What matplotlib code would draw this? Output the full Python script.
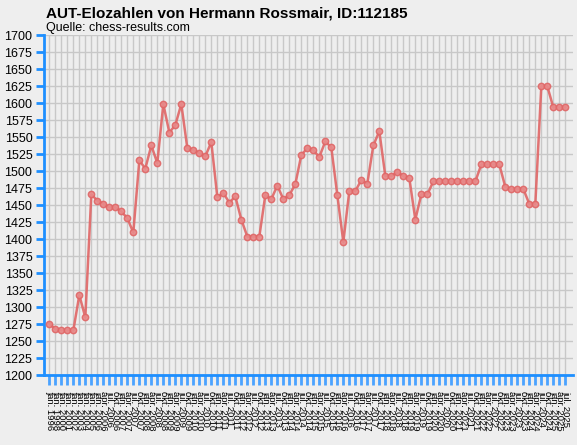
import numpy as np
import matplotlib
matplotlib.use('Agg')
import matplotlib.pyplot as plt

# Elo-Werte
elo = [1276, 1268, 1266, 1266, 1266, 1318, 1285, 1466, 1457, 1452,
       1447, 1447, 1441, 1431, 1410, 1516, 1504, 1538, 1512, 1599,
       1557, 1568, 1599, 1534, 1531, 1527, 1522, 1543, 1462, 1468,
       1454, 1463, 1429, 1404, 1404, 1404, 1465, 1459, 1479, 1459,
       1465, 1481, 1524, 1534, 1531, 1521, 1544, 1535, 1465, 1396,
       1471, 1471, 1487, 1482, 1538, 1559, 1493, 1493, 1499, 1493,
       1490, 1429, 1466, 1466, 1485, 1485, 1485, 1485, 1485, 1485,
       1485, 1485, 1510, 1510, 1510, 1510, 1477, 1474, 1474, 1474,
       1452, 1452, 1625, 1625, 1594, 1594, 1594]

# Listen-Termine (geschaetzt, Beschriftung im Bild kaum lesbar)
termine = ['jan. 1996', 'jan. 1998', 'jan. 2000', 'jan. 2001', 'jan. 2002',
           'jan. 2003', 'jan. 2004', 'jan. 2005',
           'jan. 2006', 'apr. 2006', 'jul. 2006', 'okt. 2006',
           'jan. 2007', 'apr. 2007', 'jul. 2007', 'okt. 2007',
           'jan. 2008', 'apr. 2008', 'jul. 2008', 'okt. 2008',
           'jan. 2009', 'apr. 2009', 'jul. 2009', 'okt. 2009',
           'jan. 2010', 'apr. 2010', 'jul. 2010', 'okt. 2010',
           'jan. 2011', 'apr. 2011', 'jul. 2011', 'okt. 2011',
           'jan. 2012', 'apr. 2012', 'jul. 2012', 'okt. 2012',
           'jan. 2013', 'apr. 2013', 'jul. 2013', 'okt. 2013',
           'jan. 2014', 'apr. 2014', 'jul. 2014', 'okt. 2014',
           'jan. 2015', 'apr. 2015', 'jul. 2015', 'okt. 2015',
           'jan. 2016', 'apr. 2016', 'jul. 2016', 'okt. 2016',
           'jan. 2017', 'apr. 2017', 'jul. 2017', 'okt. 2017',
           'jan. 2018', 'apr. 2018', 'jul. 2018', 'okt. 2018',
           'jan. 2019', 'apr. 2019', 'jul. 2019', 'okt. 2019',
           'jan. 2020', 'apr. 2020', 'jul. 2020', 'okt. 2020',
           'jan. 2021', 'apr. 2021', 'jul. 2021', 'okt. 2021',
           'jan. 2022', 'apr. 2022', 'jul. 2022', 'okt. 2022',
           'jan. 2023', 'apr. 2023', 'jul. 2023', 'okt. 2023',
           'jan. 2024', 'apr. 2024', 'jul. 2024', 'okt. 2024',
           'jan. 2025', 'apr. 2025', 'jul. 2025']

y_ticks = np.arange(1200, 1701, 25)

plt.rcParams['font.family'] = ['Liberation Sans', 'DejaVu Sans']

W, H = 577, 445
fig = plt.figure(figsize=(W / 100, H / 100), dpi=100)
fig.patch.set_facecolor('#eeeeee')

# Plotbereich in Pixeln: links 43.5, rechts 572.7, oben 35.3, unten 375.3
ax = fig.add_axes([43.5 / W, 1 - 375.3 / H, (572.7 - 43.5) / W, (375.3 - 35.3) / H])
ax.set_facecolor('#eeeeee')

x = np.arange(len(elo))
ax.plot(x, elo, color='#e06666', lw=1.8, alpha=0.9, zorder=3,
        marker='o', ms=4.5, mfc='#e88a8a', mec='#e06666', mew=1.1)

ax.set_xlim(-0.97, 87.23)
ax.set_ylim(1200, 1700)

ax.set_yticks(y_ticks)
ax.set_yticklabels([str(v) for v in y_ticks], fontsize=9)
ax.set_xticks(x)
ax.set_xticklabels(termine, rotation=270, fontsize=6.8, va='top', ha='center')

ax.grid(True, color='#c8c8c8', lw=1)
ax.set_axisbelow(True)

blau = '#1e8fff'
for s in ['top', 'right']:
    ax.spines[s].set_visible(False)
for s in ['left', 'bottom']:
    ax.spines[s].set_color(blau)
    ax.spines[s].set_linewidth(2)
ax.tick_params(axis='y', colors=blau, length=6, width=2, labelcolor='black', pad=2)
ax.tick_params(axis='x', colors='#4aa2ff', length=7, width=2, labelcolor='black', pad=4)

fig.text(46 / W, 1 - 17 / H, 'AUT-Elozahlen von Hermann Rossmair, ID:112185',
         fontsize=11, fontweight='bold', va='baseline', ha='left')
fig.text(46 / W, 1 - 31 / H, 'Quelle: chess-results.com',
         fontsize=9, va='baseline', ha='left')

fig.savefig('out.png', dpi=100, facecolor=fig.get_facecolor())
